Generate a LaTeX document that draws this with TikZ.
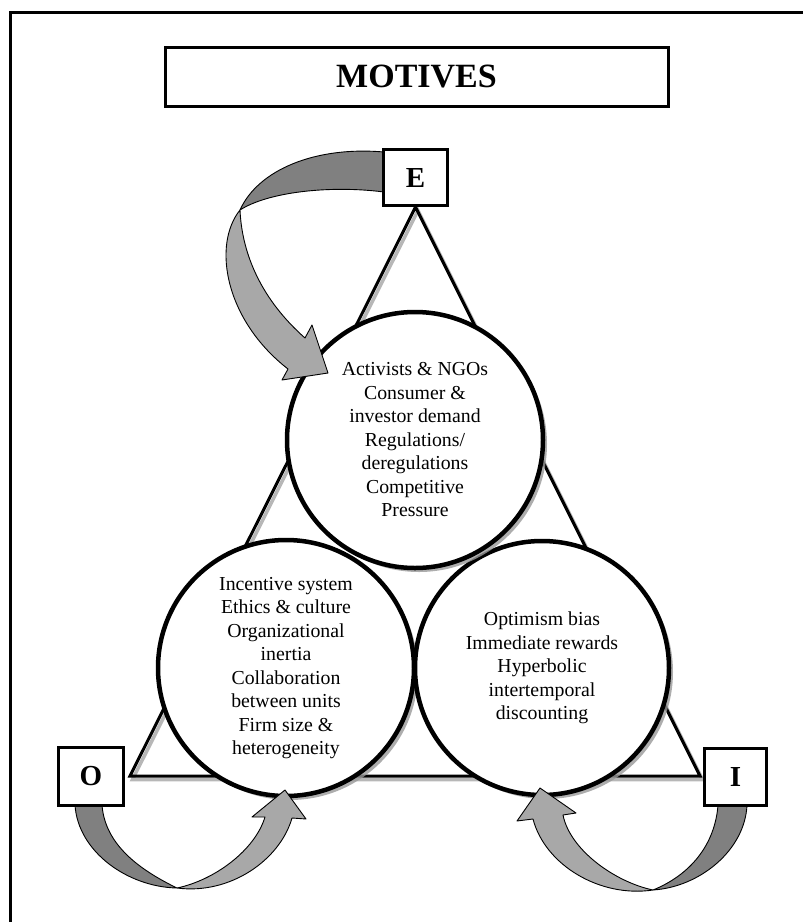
\documentclass[tikz,border=0pt]{standalone}
\usepackage{fontspec}
\setmainfont{Liberation Serif}
\usetikzlibrary{shadows}
\definecolor{arrowdark}{gray}{0.50}
\definecolor{arrowlight}{gray}{0.66}
\definecolor{shadowgray}{gray}{0.60}
\begin{document}
\begin{tikzpicture}[x=1pt,y=-1pt,
  letterbox/.style={draw, line width=3pt, fill=white, inner sep=0pt,
    font=\fontsize{29}{31}\selectfont\bfseries},
  motive/.style={circle, draw, line width=4.5pt, fill=white, minimum size=256pt,
    inner sep=0pt, align=center, font=\fontsize{19.8}{23.5}\selectfont,
    drop shadow={shadow xshift=4pt, shadow yshift=-4pt, fill=shadowgray, opacity=0.8}},
  ribbondark/.style={fill=arrowdark, draw=black, line width=0.9pt, line join=round},
  ribbonlight/.style={fill=arrowlight, draw=black, line width=0.9pt, line join=round}]

\useasboundingbox (0,0) rectangle (803,922);
\clip (0,0) rectangle (803,922);

% outer frame (runs past the page on the right and at the bottom)
\draw[line width=3pt] (10,940) -- (10,12) -- (820,12);

% title
\node[draw, line width=3pt, fill=white, minimum width=503pt, minimum height=59pt,
  font=\fontsize{34}{36}\selectfont\bfseries] (title) at (416.5,76.5) {MOTIVES};

% triangle with a soft shadow
\draw[shadowgray, line width=3.5pt, opacity=0.7, shift={(2.5,3.5)}]
  (415.5,207) -- (700,776) -- (130,776) -- cycle;
\draw[line width=3pt, line join=miter] (415.5,207) -- (700,776) -- (130,776) -- cycle;

% the three circles of motives
\node[motive] (org) at (286,668) {Incentive system\\Ethics \& culture\\Organizational\\inertia\\Collaboration\\between units\\Firm size \&\\heterogeneity};
\node[motive, minimum size=254pt] (ind) at (542,668) {Optimism bias\\Immediate rewards\\Hyperbolic\\intertemporal\\discounting};
\node[motive] (ext) at (415,440) {Activists \& NGOs\\Consumer \&\\investor demand\\Regulations/\\deregulations\\Competitive\\Pressure};

% curved arrow E -> external circle
\fill[ribbondark] (384,152) .. controls (315,146) and (258,170) .. (240,210)
  .. controls (268,192) and (330,185) .. (384,192) -- cycle;
\fill[ribbonlight] (240,210) .. controls (212,245) and (225,320) .. (288,369)
  -- (282,380) -- (328,373) -- (312,325) -- (305,338)
  .. controls (262,300) and (242,255) .. (240,210) -- cycle;

% curved arrow O -> organisational circle
\fill[ribbondark] (75,805) .. controls (78,852) and (128,887) .. (177,888)
  .. controls (140,870) and (105,845) .. (102,805) -- cycle;
\fill[ribbonlight] (177,888) .. controls (230,895) and (280,860) .. (292,818)
  -- (306,819) -- (285,790) -- (252,817) -- (265,817)
  .. controls (255,850) and (215,880) .. (177,888) -- cycle;

% curved arrow I -> individual circle
\fill[ribbondark] (747,805) .. controls (745,850) and (700,887) .. (653,890)
  .. controls (690,875) and (715,845) .. (718,805) -- cycle;
\fill[ribbonlight] (653,890) .. controls (600,898) and (545,865) .. (533,819)
  -- (517,821) -- (540,788) -- (576,813) -- (563,815)
  .. controls (570,850) and (615,882) .. (653,890) -- cycle;

% level boxes
\node[letterbox, minimum width=64pt, minimum height=56pt] (E) at (415.5,177.5) {E};
\node[letterbox, minimum width=65pt, minimum height=58pt] (O) at (91,776) {O};
\node[letterbox, minimum width=62pt, minimum height=57pt] (I) at (735.5,776.5) {I};
\end{tikzpicture}
\end{document}
